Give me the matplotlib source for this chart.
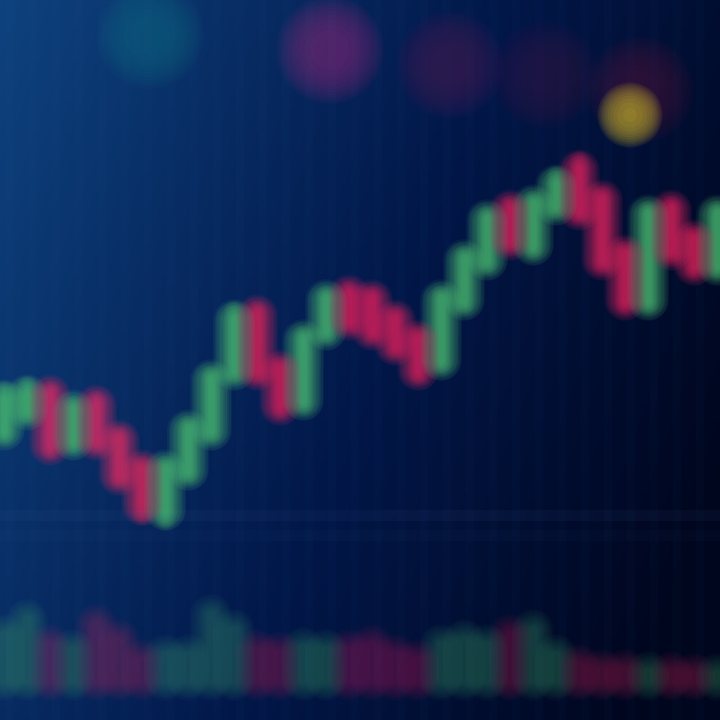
import numpy as np
import matplotlib.pyplot as plt

# price candles (screen-like units, higher = up)
opens  = [290, 310, 325, 280, 315, 280, 250, 210, 250, 290, 350, 405, 350, 320, 390, 425,
          420, 400, 380, 360, 420, 460, 510, 475, 515, 550, 520, 465, 420, 510, 480, 455]
closes = [320, 325, 275, 310, 280, 245, 215, 250, 290, 340, 400, 350, 315, 380, 420, 400,
          390, 375, 350, 420, 460, 500, 480, 515, 535, 510, 460, 420, 505, 470, 455, 505]
highs  = [330, 335, 330, 315, 320, 285, 255, 255, 295, 345, 410, 410, 355, 385, 425, 430,
          425, 405, 385, 425, 465, 505, 515, 520, 545, 560, 525, 470, 510, 515, 485, 510]
lows   = [285, 305, 270, 275, 275, 240, 205, 200, 245, 285, 345, 345, 310, 315, 385, 395,
          385, 370, 345, 355, 415, 455, 475, 470, 510, 505, 455, 415, 415, 465, 450, 450]

# volume bars
volumes = [45, 60, 35, 30, 55, 40, 20, 25, 25, 65, 50, 30, 28, 32, 30, 30,
           35, 25, 20, 35, 40, 35, 45, 50, 25, 15, 10, 10, 8, 8, 6, 6]

# out-of-focus foreground candles along the top
top_x = [150, 330, 450, 545, 640]
top_y = [685, 670, 655, 645, 630]
top_c = ['#12808a', '#c02a8a', '#6a1a60', '#4a1448', '#6a1440']

UP = '#52c878'
DOWN = '#ee2a64'

fig = plt.figure(figsize=(7.2, 7.2), dpi=100)
ax = fig.add_axes([0, 0, 1, 1])
ax.set_xlim(0, 720)
ax.set_ylim(0, 720)
ax.axis('off')

# background gradient: blue on the left, near black on the right
yy, xx = np.mgrid[0:1:200j, 0:1:200j]
t = np.clip(0.8 * xx + 0.3 * yy, 0, 1)[..., None]
c0 = np.array([14, 66, 126]) / 255
c1 = np.array([2, 24, 74]) / 255
c2 = np.array([0, 6, 30]) / 255
bg = np.where(t < 0.55, c0 + (c1 - c0) * (t / 0.55),
              c1 + (c2 - c1) * ((t - 0.55) / 0.45))
ax.imshow(bg, extent=[0, 720, 0, 720], origin='upper', aspect='auto', zorder=0)

# faint vertical grid
for gx in np.arange(10, 720, 23):
    ax.axvline(gx, color='#3a6aa8', alpha=0.03, lw=6, zorder=1)
ax.axhline(205, color='#5a7ab8', alpha=0.06, lw=8, zorder=1)
ax.axhline(185, color='#5a7ab8', alpha=0.03, lw=8, zorder=1)

xs = np.arange(len(opens)) * 23 + 4
cols = [UP if c >= o else DOWN for o, c in zip(opens, closes)]

# glow layers to mimic the blur
for lw in np.linspace(5, 30, 14):
    ax.vlines(xs, lows, highs, colors=cols, lw=lw * 0.5, alpha=0.03, zorder=3,
              capstyle='round')
    ax.vlines(xs, opens, closes, colors=cols, lw=lw, alpha=0.07, zorder=4,
              capstyle='round')

# volume bars at the bottom
for lw in np.linspace(6, 30, 9):
    ax.vlines(xs, 40, 40 + np.array(volumes), colors=cols, lw=lw, alpha=0.035,
              zorder=3, capstyle='round')

# out of focus blobs at the top
for s in np.linspace(800, 6000, 10):
    ax.scatter(top_x, top_y, s=s, c=top_c, alpha=0.05, edgecolors='none', zorder=2)

# bright highlight near the peak
for s in np.linspace(100, 2200, 10):
    ax.scatter([630], [605], s=s, color='#d8c428', alpha=0.09, edgecolors='none', zorder=5)

fig.savefig('out.png', dpi=100)
